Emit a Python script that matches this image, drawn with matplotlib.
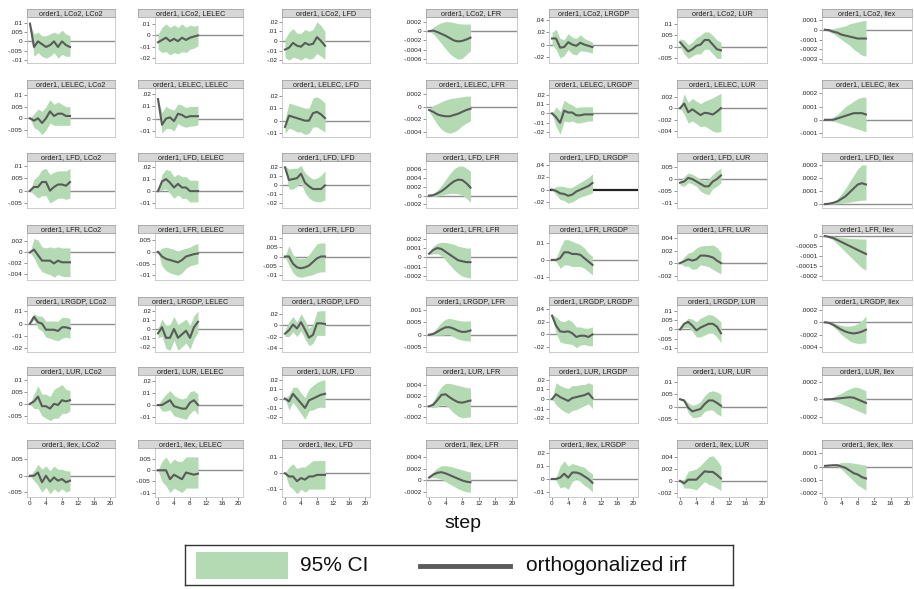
import numpy as np
import matplotlib
matplotlib.use("Agg")
import matplotlib.pyplot as plt
from matplotlib.patches import Rectangle
from matplotlib.lines import Line2D

plt.rcParams['font.family'] = ['Liberation Sans', 'DejaVu Sans']

variables = ["LCo2", "LELEC", "LFD", "LFR", "LRGDP", "LUR", "llex"]
steps = list(range(11))
xticks = [0, 4, 8, 12, 16, 20]

# ---- impulse LCo2 ----
irf_LCo2 = [
    [0.0095, -0.003, 0, -0.0015, -0.003, -0.002, 0, -0.003, 0, -0.002, -0.003],
    [-0.006, -0.004, -0.002, -0.005, -0.003, -0.005, -0.002, -0.004, -0.002, -0.001, 0],
    [-0.009, -0.007, -0.002, -0.005, -0.006, -0.002, -0.004, -0.003, 0.004, 0, -0.005],
    [0, 0.00001, -0.00002, -0.00006, -0.0001, -0.00015, -0.0002, -0.00022, -0.00021, -0.00018, -0.00014],
    [0.01, 0.01, -0.005, -0.004, 0.004, 0, -0.002, 0.003, 0, -0.002, -0.004],
    [0.002, 0, -0.002, -0.001, 0.0005, 0.001, 0.003, 0.003, 0.001, -0.001, -0.0015],
    [0, -0.000005, -0.00002, -0.00003, -0.00005, -0.00006, -0.00007, -0.00008, -0.00009, -0.00009, -0.00009],
]
hi_LCo2 = [
    [0.0095, 0.004, 0.005, 0.003, 0.003, 0.004, 0.005, 0.004, 0.006, 0.004, 0.003],
    [0.001, 0.007, 0.01, 0.007, 0.009, 0.007, 0.01, 0.007, 0.009, 0.008, 0.009],
    [0.002, 0.009, 0.013, 0.008, 0.008, 0.012, 0.01, 0.012, 0.02, 0.016, 0.01],
    [0, 0.00008, 0.00014, 0.00018, 0.0002, 0.0002, 0.00018, 0.00016, 0.00015, 0.00015, 0.00015],
    [0.02, 0.025, 0.01, 0.008, 0.018, 0.012, 0.01, 0.016, 0.01, 0.007, 0.004],
    [0.0035, 0.003, 0.001, 0.002, 0.004, 0.005, 0.0065, 0.0065, 0.005, 0.003, 0.002],
    [0, 0.000005, 0.00001, 0.00002, 0.00003, 0.00004, 0.00006, 0.00007, 0.00008, 0.00009, 0.000095],
]
lo_LCo2 = [
    [0.0095, -0.008, -0.006, -0.008, -0.009, -0.008, -0.006, -0.009, -0.007, -0.008, -0.008],
    [-0.012, -0.015, -0.014, -0.017, -0.015, -0.016, -0.014, -0.015, -0.012, -0.011, -0.009],
    [-0.017, -0.02, -0.017, -0.018, -0.02, -0.017, -0.019, -0.018, -0.013, -0.016, -0.019],
    [0, -0.00006, -0.00016, -0.00027, -0.00038, -0.00048, -0.00055, -0.0006, -0.00058, -0.0005, -0.00042],
    [0, -0.008, -0.022, -0.018, -0.008, -0.015, -0.017, -0.01, -0.011, -0.012, -0.014],
    [0.0005, -0.003, -0.005, -0.004, -0.003, -0.003, -0.001, -0.001, -0.003, -0.005, -0.005],
    [0, -0.00002, -0.00004, -0.00007, -0.0001, -0.00013, -0.00016, -0.0002, -0.00023, -0.00026, -0.00027],
]
ylim_LCo2 = [(-0.0116, 0.0131), (-0.024, 0.016), (-0.023, 0.025), (-0.00068, 0.0003),
             (-0.03, 0.045), (-0.007, 0.013), (-0.00034, 0.00013)]
yticks_LCo2 = [[.01, .005, 0, -.005, -.01], [.01, 0, -.01, -.02], [.02, .01, 0, -.01, -.02],
               [.0002, 0, -.0002, -.0004, -.0006], [.04, .02, 0, -.02], [.01, .005, 0, -.005],
               [.0001, 0, -.0001, -.0002, -.0003]]

# ---- impulse LELEC ----
irf_LELEC = [
    [0, -0.001, 0, -0.002, 0, 0.003, 0.001, 0.002, 0.002, 0.001, 0.001],
    [0.016, -0.005, 0, 0.001, -0.002, 0.004, 0.003, 0.001, 0.002, 0.002, 0.002],
    [-0.005, 0.004, 0.003, 0.002, 0.001, 0, 0, 0.006, 0.007, 0.005, 0.002],
    [-0.00005, -0.00008, -0.00012, -0.00014, -0.00015, -0.00015, -0.00013, -0.00011, -0.00008, -0.00005, -0.00003],
    [0, -0.004, -0.01, 0.003, 0.001, 0.001, -0.002, -0.002, -0.001, -0.001, -0.001],
    [0, 0.0008, -0.0007, -0.0002, -0.0007, -0.0012, -0.0008, -0.0009, -0.0011, -0.0006, 0],
    [0, 0, 0, 0.00001, 0.00002, 0.00003, 0.00004, 0.00005, 0.00005, 0.00005, 0.00004],
]
hi_LELEC = [
    [0, 0.002, 0.004, 0.003, 0.005, 0.008, 0.006, 0.007, 0.006, 0.005, 0.005],
    [0.016, 0.005, 0.01, 0.008, 0.007, 0.012, 0.011, 0.009, 0.01, 0.01, 0.01],
    [0.001, 0.014, 0.013, 0.012, 0.011, 0.01, 0.01, 0.018, 0.019, 0.017, 0.014],
    [-0.00003, 0.00002, 0.00005, 0.00008, 0.00011, 0.00013, 0.00014, 0.00015, 0.00016, 0.00017, 0.00017],
    [0, 0.007, 0.002, 0.014, 0.011, 0.009, 0.006, 0.007, 0.007, 0.007, 0.007],
    [0, 0.0025, 0.001, 0.0017, 0.0012, 0.0008, 0.0012, 0.0015, 0.0018, 0.0022, 0.0026],
    [0, 0.000005, 0.00002, 0.00004, 0.00007, 0.0001, 0.00012, 0.00014, 0.00016, 0.00017, 0.00017],
]
lo_LELEC = [
    [0, -0.004, -0.005, -0.007, -0.005, -0.002, -0.003, -0.003, -0.003, -0.003, -0.003],
    [0.016, -0.012, -0.008, -0.008, -0.01, -0.004, -0.006, -0.007, -0.006, -0.006, -0.005],
    [-0.01, -0.006, -0.007, -0.009, -0.009, -0.011, -0.01, -0.005, -0.005, -0.007, -0.009],
    [-0.00007, -0.00018, -0.00028, -0.00036, -0.0004, -0.00042, -0.0004, -0.00036, -0.0003, -0.00026, -0.00022],
    [0, -0.014, -0.022, -0.008, -0.009, -0.008, -0.01, -0.01, -0.009, -0.008, -0.008],
    [0, -0.001, -0.0026, -0.0022, -0.0027, -0.0032, -0.0031, -0.0035, -0.004, -0.0042, -0.004],
    [0, -0.000005, -0.00001, -0.00002, -0.00003, -0.00004, -0.00005, -0.00006, -0.00007, -0.00008, -0.00009],
]
ylim_LELEC = [(-0.008, 0.013), (-0.015, 0.025), (-0.013, 0.026), (-0.00048, 0.0003),
              (-0.025, 0.027), (-0.005, 0.0035), (-0.00013, 0.00024)]
yticks_LELEC = [[.01, .005, 0, -.005], [.02, .01, 0, -.01], [.02, .01, 0, -.01],
                [.0002, 0, -.0002, -.0004], [.02, .01, 0, -.01, -.02], [.002, 0, -.002, -.004],
                [.0002, .0001, 0, -.0001]]

# ---- impulse LFD ----
irf_LFD = [
    [0, 0.0015, 0.0015, 0.0035, 0.0035, 0, 0.0015, 0.0025, 0.0025, 0.002, 0.0035],
    [0, 0.008, 0.01, 0.007, 0.003, 0.006, 0.003, 0.003, 0, 0, 0],
    [0.02, 0.006, 0.007, 0.008, 0.013, 0.003, -0.001, -0.004, -0.004, -0.004, 0],
    [0, 0.00001, 0.00005, 0.0001, 0.00017, 0.00025, 0.00032, 0.00036, 0.00035, 0.00028, 0.00018],
    [0, -0.002, -0.006, -0.007, -0.01, -0.008, -0.003, 0, 0.003, 0.006, 0.011],
    [-0.0015, -0.001, 0.0005, 0, -0.001, -0.002, -0.003, -0.003, -0.001, 0, 0.0015],
    [0, 0.000003, 0.00001, 0.00002, 0.00004, 0.00006, 0.00009, 0.00012, 0.00015, 0.00016, 0.00015],
]
hi_LFD = [
    [0, 0.0045, 0.006, 0.0085, 0.009, 0.0065, 0.0075, 0.008, 0.008, 0.008, 0.009],
    [0, 0.014, 0.018, 0.017, 0.012, 0.014, 0.012, 0.012, 0.009, 0.009, 0.009],
    [0.022, 0.018, 0.019, 0.019, 0.022, 0.014, 0.01, 0.007, 0.008, 0.011, 0.016],
    [0, 0.00004, 0.00012, 0.00023, 0.00036, 0.00049, 0.0006, 0.00066, 0.00067, 0.00062, 0.00055],
    [0, 0.005, 0.006, 0.005, 0.003, 0.004, 0.008, 0.012, 0.016, 0.02, 0.026],
    [-0.0005, 0.001, 0.0025, 0.002, 0.001, 0, -0.0005, 0, 0.002, 0.0035, 0.0045],
    [0, 0.000008, 0.00002, 0.00004, 0.00008, 0.00012, 0.00017, 0.00022, 0.00027, 0.0003, 0.0003],
]
lo_LFD = [
    [0, -0.0015, -0.003, -0.002, -0.002, -0.005, -0.004, -0.003, -0.003, -0.0035, -0.003],
    [0, 0.001, 0.002, -0.002, -0.006, -0.003, -0.006, -0.006, -0.009, -0.009, -0.009],
    [0.018, -0.004, -0.004, -0.001, 0.003, -0.008, -0.014, -0.017, -0.018, -0.018, -0.016],
    [0, -0.00002, -0.00001, 0.00001, 0.00003, 0.00005, 0.00005, 0.00004, 0.00001, -0.00006, -0.00015],
    [0, -0.008, -0.016, -0.018, -0.022, -0.02, -0.016, -0.012, -0.01, -0.008, -0.005],
    [-0.0025, -0.003, -0.0015, -0.002, -0.003, -0.005, -0.006, -0.0065, -0.004, -0.003, -0.0015],
    [0, -0.000002, 0, 0.000002, 0.000005, 0.00001, 0.000015, 0.00002, 0.000025, 0.00003, 0.00003],
]
ylim_LFD = [(-0.007, 0.012), (-0.014, 0.025), (-0.025, 0.027), (-0.00028, 0.00078),
            (-0.03, 0.047), (-0.012, 0.0075), (-0.00003, 0.00033)]
yticks_LFD = [[.01, .005, 0, -.005], [.02, .01, 0, -.01], [.02, .01, 0, -.01, -.02],
              [.0006, .0004, .0002, 0, -.0002], [.04, .02, 0, -.02], [.005, 0, -.005, -.01],
              [.0003, .0002, .0001, 0]]

# ---- impulse LFR ----
irf_LFR = [
    [0, 0.0005, -0.0005, -0.0015, -0.0015, -0.0015, -0.002, -0.0015, -0.0018, -0.0018, -0.0018],
    [0, -0.002, -0.003, -0.0035, -0.004, -0.0045, -0.0035, -0.002, -0.0015, -0.001, -0.0007],
    [0, 0, -0.004, -0.006, -0.0065, -0.006, -0.005, -0.003, -0.001, 0, 0],
    [0.00004, 0.00008, 0.0001, 0.00009, 0.00006, 0.00003, 0, -0.00003, -0.00004, -0.00005, -0.00005],
    [0, 0, 0.001, 0.0045, 0.0045, 0.0035, 0.0035, 0.003, 0.001, -0.001, -0.003],
    [0, 0.0003, 0.0006, 0.0004, 0.0006, 0.0012, 0.0012, 0.0011, 0.0009, 0.0004, 0],
    [0, -0.000005, -0.00001, -0.00002, -0.00003, -0.00004, -0.00005, -0.00006, -0.00007, -0.00008, -0.00009],
]
hi_LFR = [
    [0, 0.0025, 0.0022, 0.001, 0.0008, 0.001, 0.0008, 0.001, 0.0008, 0.0008, 0.0008],
    [0, 0.0015, 0.002, 0.0015, 0.001, 0.0003, 0.001, 0.0015, 0.002, 0.003, 0.0035],
    [0, 0.006, 0.001, -0.001, -0.0012, -0.001, 0.001, 0.004, 0.007, 0.0075, 0.0075],
    [0.00005, 0.00012, 0.00015, 0.00016, 0.00016, 0.00015, 0.00014, 0.00012, 0.00011, 0.0001, 0.0001],
    [0, 0.001, 0.007, 0.012, 0.012, 0.011, 0.01, 0.009, 0.007, 0.004, 0.002],
    [0, 0.001, 0.0016, 0.0018, 0.0024, 0.0027, 0.0028, 0.0028, 0.0029, 0.0025, 0.0017],
    [0, 0, 0, -0.000005, -0.000008, -0.00001, -0.000012, -0.000013, -0.000014, -0.000015, -0.000015],
]
lo_LFR = [
    [0, -0.001, -0.0025, -0.0035, -0.0038, -0.004, -0.0045, -0.004, -0.0043, -0.0044, -0.0044],
    [0, -0.006, -0.008, -0.009, -0.0095, -0.01, -0.009, -0.007, -0.006, -0.0055, -0.005],
    [0, -0.005, -0.009, -0.011, -0.0115, -0.011, -0.0105, -0.01, -0.009, -0.0085, -0.0085],
    [0.00003, 0.00004, 0.00004, 0.00002, -0.00003, -0.00008, -0.00013, -0.00017, -0.0002, -0.00021, -0.00022],
    [0, -0.001, -0.005, -0.003, -0.003, -0.004, -0.004, -0.004, -0.005, -0.007, -0.009],
    [0, -0.0005, -0.0005, -0.001, -0.0009, -0.0003, -0.0004, -0.0006, -0.001, -0.0014, -0.0017],
    [0, -0.00001, -0.00002, -0.00004, -0.00006, -0.00008, -0.0001, -0.00012, -0.00014, -0.00016, -0.00017],
]
ylim_LFR = [(-0.005, 0.0035), (-0.012, 0.008), (-0.013, 0.013), (-0.00024, 0.00026),
            (-0.012, 0.016), (-0.0027, 0.0048), (-0.00022, 0.000015)]
yticks_LFR = [[.002, 0, -.002, -.004], [.005, 0, -.005, -.01], [.01, .005, 0, -.005, -.01],
              [.0002, .0001, 0, -.0001, -.0002], [.01, 0, -.01], [.004, .002, 0, -.002],
              [0, -.00005, -.0001, -.00015, -.0002]]

# ---- impulse LRGDP ----
irf_LRGDP = [
    [0, 0.0055, 0.001, 0, -0.005, -0.005, -0.005, -0.006, -0.003, -0.003, -0.004],
    [-0.005, 0.002, -0.01, -0.01, 0, -0.01, -0.006, -0.002, -0.01, 0.002, 0.008],
    [-0.015, -0.009, 0.001, -0.006, 0.005, -0.008, -0.022, -0.017, 0.003, 0.003, 0.002],
    [0, 0.00003, 0.00012, 0.00022, 0.0003, 0.0003, 0.00024, 0.00016, 0.00011, 0.00012, 0.00017],
    [0.03, 0.014, 0.005, 0.004, 0.005, 0.002, -0.004, -0.002, -0.002, -0.004, 0],
    [0, 0.003, 0.004, 0.002, -0.0005, 0.001, 0.002, 0.003, 0.003, 0.0015, -0.002],
    [0, -0.00001, -0.00004, -0.00008, -0.00012, -0.00015, -0.00017, -0.00018, -0.00017, -0.00015, -0.00012],
]
hi_LRGDP = [
    [0, 0.008, 0.006, 0.006, 0.002, 0.002, 0.002, 0.002, 0.005, 0.005, 0.004],
    [0.001, 0.011, 0.004, 0.005, 0.014, 0.005, 0.008, 0.011, 0.004, 0.015, 0.02],
    [-0.009, 0.006, 0.015, 0.005, 0.02, 0.008, -0.006, 0.001, 0.024, 0.025, 0.025],
    [0, 0.0001, 0.0003, 0.0005, 0.00063, 0.00066, 0.00062, 0.00058, 0.00055, 0.00055, 0.00056],
    [0.032, 0.028, 0.022, 0.02, 0.024, 0.02, 0.012, 0.012, 0.01, 0.01, 0.012],
    [0, 0.004, 0.006, 0.0055, 0.004, 0.006, 0.007, 0.008, 0.0075, 0.006, 0.004],
    [0, 0, -0.00001, -0.00003, -0.00005, -0.00006, -0.00006, -0.00005, -0.00002, 0.00003, 0.0001],
]
lo_LRGDP = [
    [0, 0.003, -0.004, -0.006, -0.011, -0.012, -0.013, -0.014, -0.012, -0.011, -0.012],
    [-0.01, -0.008, -0.022, -0.024, -0.013, -0.024, -0.02, -0.016, -0.023, -0.011, -0.004],
    [-0.02, -0.02, -0.012, -0.02, -0.01, -0.024, -0.036, -0.032, -0.018, -0.018, -0.018],
    [0, -0.00003, -0.00002, -0.00002, 0, 0, -0.0001, -0.00018, -0.00022, -0.00025, -0.00025],
    [0.028, 0.002, -0.012, -0.014, -0.015, -0.016, -0.021, -0.017, -0.016, -0.018, -0.018],
    [0, 0.001, 0.001, -0.001, -0.004, -0.004, -0.003, -0.002, -0.002, -0.004, -0.007],
    [0, -0.00002, -0.00007, -0.00013, -0.0002, -0.00025, -0.0003, -0.00033, -0.00034, -0.00034, -0.00033],
]
ylim_LRGDP = [(-0.023, 0.015), (-0.026, 0.027), (-0.047, 0.035), (-0.0007, 0.0012),
              (-0.028, 0.047), (-0.012, 0.013), (-0.00048, 0.00028)]
yticks_LRGDP = [[.01, 0, -.01, -.02], [.02, .01, 0, -.01, -.02], [.02, 0, -.02, -.04],
                [.001, .0005, 0, -.0005], [.04, .02, 0, -.02], [.01, .005, 0, -.005, -.01],
                [.0002, 0, -.0002, -.0004]]

# ---- impulse LUR ----
irf_LUR = [
    [0, 0.001, 0.003, -0.001, -0.001, -0.002, 0, -0.0005, 0.0015, 0.001, 0.0015],
    [0, 0, 0.002, 0.004, -0.001, -0.002, -0.003, -0.003, 0.002, 0.004, 0],
    [0, -0.003, 0.005, 0, -0.005, -0.01, -0.002, 0, 0.002, 0.004, 0.005],
    [0, 0.00003, 0.00012, 0.00022, 0.00023, 0.00017, 0.00012, 0.00008, 0.00007, 0.00009, 0.00011],
    [0, 0.005, 0.002, 0, -0.002, 0.001, 0.002, 0.003, 0.004, 0.006, 0.001],
    [0.003, 0.0025, -0.0005, -0.002, -0.0015, -0.001, 0.001, 0.0025, 0.0025, 0.0015, 0.0003],
    [0, 0.000002, 0.000005, 0.00001, 0.000015, 0.00002, 0.000025, 0.00002, 0, -0.00002, -0.00004],
]
hi_LUR = [
    [0, 0.004, 0.0075, 0.004, 0.004, 0.003, 0.006, 0.007, 0.008, 0.006, 0.0055],
    [0, 0.005, 0.009, 0.012, 0.008, 0.006, 0.005, 0.006, 0.011, 0.012, 0.009],
    [0, 0.004, 0.012, 0.012, 0.006, 0.001, 0.01, 0.014, 0.017, 0.019, 0.02],
    [0, 0.0001, 0.00025, 0.00038, 0.00044, 0.00044, 0.00042, 0.0004, 0.00038, 0.00036, 0.00035],
    [0, 0.017, 0.014, 0.012, 0.011, 0.014, 0.014, 0.015, 0.015, 0.017, 0.015],
    [0.0032, 0.003, 0.0015, 0.0005, 0.001, 0.002, 0.0045, 0.006, 0.0065, 0.006, 0.005],
    [0, 0.00001, 0.00003, 0.00005, 0.00007, 0.0001, 0.00012, 0.00014, 0.00014, 0.00012, 0.0001],
]
lo_LUR = [
    [0, -0.002, -0.002, -0.005, -0.006, -0.007, -0.006, -0.006, -0.004, -0.004, -0.003],
    [0, -0.005, -0.005, -0.004, -0.009, -0.01, -0.011, -0.012, -0.007, -0.004, -0.008],
    [0, -0.012, -0.004, -0.01, -0.016, -0.022, -0.013, -0.012, -0.01, -0.009, -0.01],
    [0, -0.00003, -0.00001, 0.00003, 0.00002, -0.00005, -0.00013, -0.00019, -0.00022, -0.00021, -0.0002],
    [0, -0.006, -0.01, -0.013, -0.015, -0.012, -0.011, -0.009, -0.007, -0.005, -0.01],
    [0.0028, 0.002, -0.0025, -0.0045, -0.0045, -0.004, -0.002, -0.0015, -0.0015, -0.003, -0.004],
    [0, -0.000005, -0.00002, -0.00003, -0.00005, -0.00007, -0.00009, -0.00011, -0.00013, -0.00015, -0.00017],
]
ylim_LUR = [(-0.008, 0.012), (-0.015, 0.025), (-0.026, 0.025), (-0.00032, 0.0006),
            (-0.025, 0.025), (-0.0068, 0.013), (-0.00027, 0.00028)]
yticks_LUR = [[.01, .005, 0, -.005], [.02, .01, 0, -.01], [.02, .01, 0, -.01, -.02],
              [.0004, .0002, 0, -.0002], [.02, .01, 0, -.01, -.02], [.01, .005, 0, -.005],
              [.0002, 0, -.0002]]

# ---- impulse llex ----
irf_llex = [
    [0, 0, 0.001, -0.002, 0, -0.0018, -0.0005, -0.0015, -0.001, -0.002, -0.0015],
    [0, 0, 0, -0.004, -0.002, -0.003, -0.004, -0.001, -0.0015, -0.002, -0.0015],
    [0, -0.002, -0.002, -0.005, -0.003, -0.004, -0.002, -0.002, -0.001, -0.001, -0.001],
    [0.00005, 0.0001, 0.00013, 0.00014, 0.00012, 0.00009, 0.00006, 0.00003, 0, -0.00002, -0.00003],
    [0, 0, 0.001, 0.004, 0.001, 0.005, 0.005, 0.004, 0.002, 0, -0.003],
    [0, -0.0004, 0.0002, 0.0002, 0.0002, 0.0009, 0.0016, 0.0015, 0.0015, 0.001, 0.0004],
    [0.000005, 0.000008, 0.00001, 0.00001, 0, -0.00001, -0.00003, -0.00005, -0.00006, -0.00008, -0.00009],
]
hi_llex = [
    [0, 0.0015, 0.0035, 0.002, 0.003, 0.0015, 0.003, 0.002, 0.002, 0.0015, 0.0015],
    [0, 0.004, 0.006, 0.003, 0.005, 0.004, 0.004, 0.006, 0.006, 0.006, 0.006],
    [0, 0.004, 0.006, 0.003, 0.004, 0.004, 0.006, 0.008, 0.008, 0.008, 0.008],
    [0.00006, 0.00015, 0.00021, 0.00025, 0.00025, 0.00024, 0.00022, 0.0002, 0.00018, 0.00016, 0.00014],
    [0, 0.001, 0.01, 0.014, 0.01, 0.012, 0.011, 0.01, 0.009, 0.006, 0.004],
    [0, 0.0003, 0.0016, 0.0018, 0.002, 0.0026, 0.0033, 0.004, 0.0042, 0.0035, 0.0025],
    [0.000006, 0.00001, 0.000015, 0.00002, 0.00003, 0.00003, 0.00003, 0.000025, 0.00002, 0.000015, 0.00001],
]
lo_llex = [
    [0, -0.0015, -0.003, -0.005, -0.0035, -0.0055, -0.004, -0.005, -0.004, -0.005, -0.0045],
    [0, -0.005, -0.007, -0.01, -0.008, -0.009, -0.01, -0.008, -0.008, -0.008, -0.008],
    [0, -0.008, -0.01, -0.013, -0.01, -0.012, -0.01, -0.01, -0.01, -0.01, -0.01],
    [0.00004, 0.00005, 0.00004, 0.00002, -0.00002, -0.00006, -0.0001, -0.00014, -0.00017, -0.00019, -0.0002],
    [0, -0.001, -0.007, -0.006, -0.008, -0.002, 0, -0.002, -0.005, -0.007, -0.01],
    [0, -0.0012, -0.0012, -0.0013, -0.0015, -0.0008, -0.0001, -0.0006, -0.0008, -0.0012, -0.0016],
    [0.000004, 0.000005, 0.000005, 0, -0.00002, -0.00005, -0.00008, -0.00011, -0.00014, -0.00016, -0.00018],
]
ylim_llex = [(-0.0065, 0.0085), (-0.012, 0.01), (-0.015, 0.016), (-0.00028, 0.00055),
             (-0.014, 0.024), (-0.0027, 0.0055), (-0.00023, 0.00014)]
yticks_llex = [[.005, 0, -.005], [.005, 0, -.005, -.01], [.01, 0, -.01],
               [.0004, .0002, 0, -.0002], [.02, .01, 0, -.01], [.004, .002, 0, -.002],
               [.0001, 0, -.0001, -.0002]]

irf_rows = [irf_LCo2, irf_LELEC, irf_LFD, irf_LFR, irf_LRGDP, irf_LUR, irf_llex]
hi_rows = [hi_LCo2, hi_LELEC, hi_LFD, hi_LFR, hi_LRGDP, hi_LUR, hi_llex]
lo_rows = [lo_LCo2, lo_LELEC, lo_LFD, lo_LFR, lo_LRGDP, lo_LUR, lo_llex]
ylim_rows = [ylim_LCo2, ylim_LELEC, ylim_LFD, ylim_LFR, ylim_LRGDP, ylim_LUR, ylim_llex]
yticks_rows = [yticks_LCo2, yticks_LELEC, yticks_LFD, yticks_LFR, yticks_LRGDP, yticks_LUR, yticks_llex]

# ---- layout (pixels) ----
W, H = 914, 589
col_left = [27, 155, 282, 426, 549, 677, 822]
col_right = [115, 243, 370, 517, 638, 767, 912]
title_left = [27, 138, 282, 426, 549, 677, 822]
row_top = [9, 80, 153, 225, 297, 367, 440]
row_bot = [63, 137, 208, 280, 352, 423, 497]
bar_h = 8

band_color = '#b3dab3'
line_color = '#5a5a5a'
zero_color = '#8e8e8e'
frame_color = '#c4c4c4'


def fmt(v):
    if v == 0:
        return '0'
    s = np.format_float_positional(round(v, 8), trim='-')
    s = s.replace('0.', '.')
    return s


def fx(px):
    return px / W


def fy(py):
    return 1 - py / H


fig = plt.figure(figsize=(W / 100, H / 100), dpi=100)
fig.patch.set_facecolor('white')

for r in range(7):
    for c in range(7):
        l, rr = col_left[c], col_right[c]
        top = row_top[r] + bar_h
        bot = row_bot[r]
        ax = fig.add_axes([fx(l), fy(bot), fx(rr - l), (bot - top) / H])
        ax.axhline(0, color=('#222222' if (r, c) == (2, 4) else zero_color),
                   lw=(1.6 if (r, c) == (2, 4) else 1.0), zorder=1)
        ax.fill_between(steps, lo_rows[r][c], hi_rows[r][c], color=band_color,
                        lw=0, zorder=2)
        ax.plot(steps, irf_rows[r][c], color=line_color, lw=1.5, zorder=3)
        ax.set_xlim(-0.75, 21.25)
        ax.set_ylim(*ylim_rows[r][c])
        yt = yticks_rows[r][c]
        ax.set_yticks(yt)
        ax.set_yticklabels([fmt(v) for v in yt])
        ax.set_xticks(xticks)
        if r == 6:
            ax.set_xticklabels([str(v) for v in xticks])
        else:
            ax.tick_params(axis='x', bottom=False, labelbottom=False)
        ax.tick_params(axis='both', labelsize=4.6, length=2, width=0.5,
                       color='#666666', pad=1, labelcolor='#222222')
        for sp in ax.spines.values():
            sp.set_color(frame_color)
            sp.set_linewidth(0.6)
        # title bar
        tl = title_left[c]
        tax = fig.add_axes([fx(tl), fy(row_top[r] + bar_h), fx(rr - tl), bar_h / H])
        tax.set_facecolor('#d6d6d6')
        tax.set_xticks([])
        tax.set_yticks([])
        for sp in tax.spines.values():
            sp.set_color('#9a9a9a')
            sp.set_linewidth(0.5)
        tax.text(0.5, 0.45, f"order1, {variables[r]}, {variables[c]}",
                 ha='center', va='center', fontsize=5.2, color='#222222',
                 transform=tax.transAxes)

# x-axis title
fig.text(fx(463), fy(524), 'step', ha='center', va='center', fontsize=14, color='#111111')

# legend
lax = fig.add_axes([fx(185), fy(585), fx(733 - 185), 40 / H])
lax.set_xlim(185, 733)
lax.set_ylim(585, 545)
lax.set_xticks([])
lax.set_yticks([])
for sp in lax.spines.values():
    sp.set_color('#333333')
    sp.set_linewidth(1.0)
lax.add_patch(Rectangle((196, 552), 92, 27, facecolor=band_color, edgecolor='none'))
lax.text(300, 565.5, '95% CI', ha='left', va='center', fontsize=15, color='#111111')
lax.add_line(Line2D([420, 510], [565.5, 565.5], color=line_color, lw=3.5))
lax.text(526, 565.5, 'orthogonalized irf', ha='left', va='center', fontsize=15, color='#111111')

fig.savefig('out.png', dpi=100, facecolor='white')
